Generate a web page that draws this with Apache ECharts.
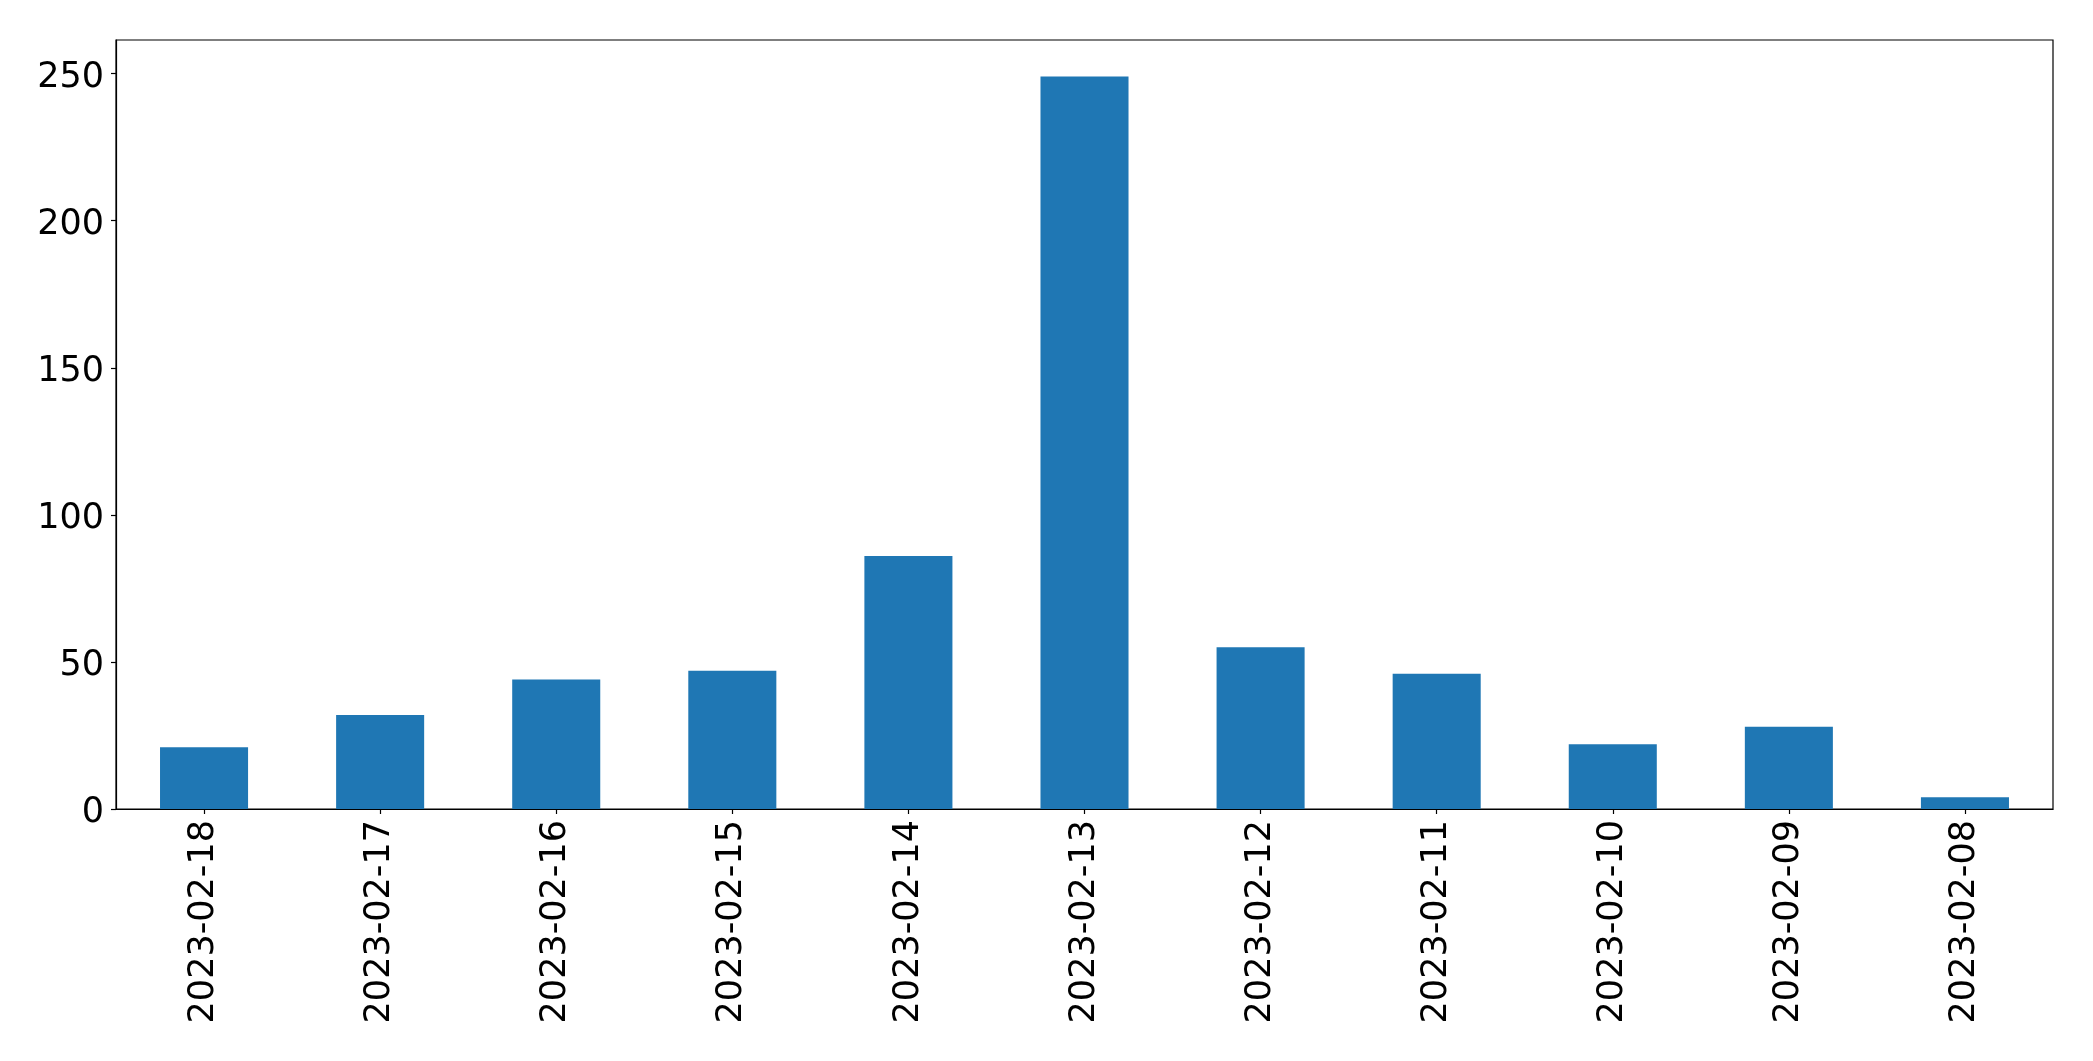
<!DOCTYPE html>
<html>
<head>
<meta charset="utf-8">
<script src="https://cdn.jsdelivr.net/npm/echarts@6/dist/echarts.min.js"></script>
<style>
  html, body { margin: 0; padding: 0; background: #fff; }
  #chart { width: 2093px; height: 1061px; }
</style>
</head>
<body>
<div id="chart"></div>
<script>
const categories = ['2023-02-18', '2023-02-17', '2023-02-16', '2023-02-15', '2023-02-14', '2023-02-13', '2023-02-12', '2023-02-11', '2023-02-10', '2023-02-09', '2023-02-08'];
const counts = [21, 32, 44, 47, 86, 249, 55, 46, 22, 28, 4];
const yTicks = [0, 50, 100, 150, 200, 250];

const FONT = 'DejaVu Sans';
const chart = echarts.init(document.getElementById('chart'), null, { renderer: 'canvas' });
const yMax = Math.max(...counts) * 1.05;

chart.setOption({
  animation: false,
  backgroundColor: '#ffffff',
  grid: {
    left: 116, right: 40, top: 40, bottom: 252,
    show: true, borderColor: '#000000', borderWidth: 1.2, backgroundColor: 'transparent',
    containLabel: false
  },
  xAxis: {
    type: 'category',
    data: categories,
    boundaryGap: true,
    axisLine: { show: true, lineStyle: { color: '#000000', width: 1.2 } },
    axisTick: { show: true, alignWithLabel: true, length: 5, lineStyle: { color: '#000000', width: 1.2 } },
    axisLabel: { rotate: 90, fontSize: 35, fontFamily: FONT, color: '#000000', margin: 11, interval: 0 },
    splitLine: { show: false }
  },
  yAxis: {
    type: 'value',
    min: 0,
    max: yMax,
    interval: 50,
    axisLine: { show: true, lineStyle: { color: '#000000', width: 1.2 } },
    axisTick: { show: true, length: 5, lineStyle: { color: '#000000', width: 1.2 }, customValues: yTicks },
    axisLabel: {
      fontSize: 35, fontFamily: FONT, color: '#000000', margin: 12, customValues: yTicks,
      formatter: '{a|{value}}',
      rich: { a: { fontSize: 35, fontFamily: FONT, color: '#000000', padding: [8, 0, 0, 0] } }
    },
    splitLine: { show: false }
  },
  series: [{
    type: 'bar',
    data: counts,
    barWidth: '50%',
    itemStyle: { color: '#1f77b4' }
  }]
});
</script>
</body>
</html>
